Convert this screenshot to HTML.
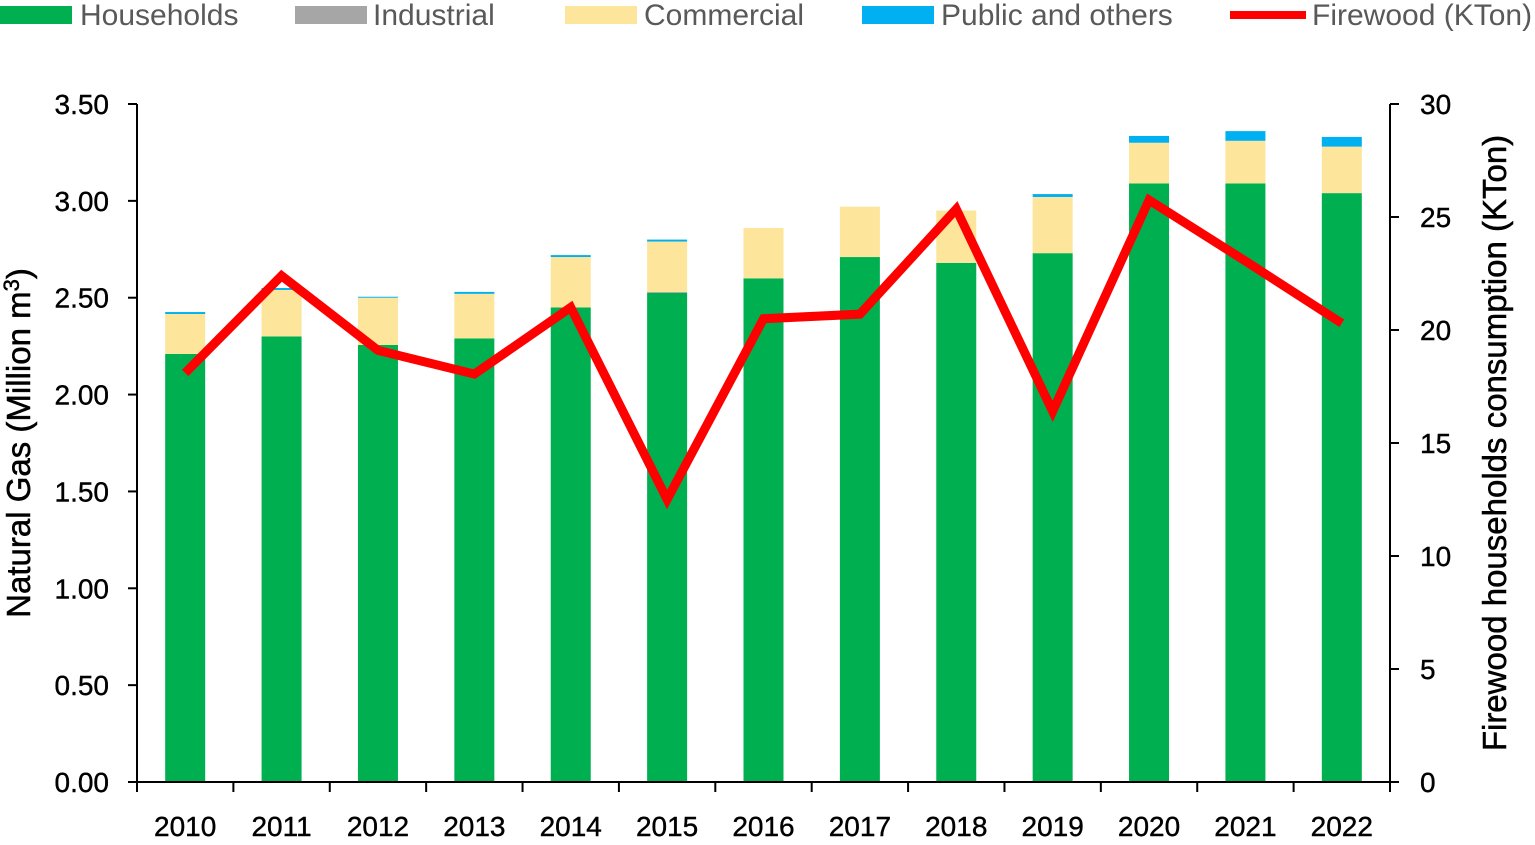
<!DOCTYPE html>
<html><head><meta charset="utf-8"><style>
body{margin:0;background:#fff;}
svg{display:block;font-family:"Liberation Sans",sans-serif;}
</style></head><body>
<svg id="c" width="1535" height="845"></svg>
<script>
const years=["2010","2011","2012","2013","2014","2015","2016","2017","2018","2019","2020","2021","2022"];
const households=[2.21,2.30,2.256,2.29,2.45,2.525,2.60,2.71,2.68,2.73,3.09,3.09,3.04];
const industrial=[0,0,0,0,0,0.005,0,0,0,0,0,0,0];
const commercial=[0.206,0.24,0.244,0.23,0.26,0.26,0.26,0.26,0.27,0.29,0.21,0.22,0.24];
const publicOthers=[0.01,0.01,0.005,0.01,0.01,0.01,0,0,0,0.015,0.035,0.05,0.05];
const firewood=[18.1,22.4,19.1,18.05,21.0,12.5,20.5,20.7,25.35,16.4,25.75,23.05,20.3];
const leftTicks=["0.00","0.50","1.00","1.50","2.00","2.50","3.00","3.50"];
const rightTicks=["0","5","10","15","20","25","30"];
const NS="http://www.w3.org/2000/svg";
const svg=document.getElementById('c');
function el(t,a,txt){const e=document.createElementNS(NS,t);for(const k in a)e.setAttribute(k,a[k]);if(txt!==undefined)e.textContent=txt;svg.appendChild(e);return e;}
const X0=137,X1=1390,Y0=782,Y1=104;
const cw=(X1-X0)/years.length;
const yL=v=>Y0-(v/3.5)*(Y0-Y1);
const yR=v=>Y0-(v/30)*(Y0-Y1);
const xc=i=>X0+cw*(i+0.5);
const bw=40;
years.forEach((y,i)=>{
  let base=0;
  const segs=[[households[i],"#00b050","households"],[industrial[i],"#a6a6a6","industrial"],[commercial[i],"#fde59b","commercial"],[publicOthers[i],"#00b0f0","public-others"]];
  segs.forEach(([v,c,n])=>{
    if(v<=0)return;
    const r=el('rect',{x:xc(i)-bw/2,y:yL(base+v),width:bw,height:yL(base)-yL(base+v),fill:c});
    
    
    base+=v;
  });
});
let a=el('line',{x1:X0,y1:Y1,x2:X0,y2:Y0,stroke:'#000','stroke-width':2});
a=el('line',{x1:X1,y1:Y1,x2:X1,y2:Y0,stroke:'#000','stroke-width':2});
a=el('line',{x1:X0,y1:Y0,x2:X1,y2:Y0,stroke:'#000','stroke-width':2});
leftTicks.forEach((t,i)=>{const v=parseFloat(t);el('line',{x1:X0-9,y1:yL(v),x2:X0,y2:yL(v),stroke:'#000','stroke-width':2});
 const tx=el('text',{x:X0-28,y:yL(v)+10,'text-anchor':'end','font-size':28,stroke:'#000','stroke-width':0.4},t);});
rightTicks.forEach(t=>{const v=parseFloat(t);el('line',{x1:X1,y1:yR(v),x2:X1+9,y2:yR(v),stroke:'#000','stroke-width':2});
 const tx=el('text',{x:X1+30,y:yR(v)+10,'text-anchor':'start','font-size':28,stroke:'#000','stroke-width':0.4},t);});
for(let i=0;i<=years.length;i++)el('line',{x1:X0+cw*i,y1:Y0,x2:X0+cw*i,y2:Y0+10,stroke:'#000','stroke-width':2});
years.forEach((y,i)=>{const tx=el('text',{x:xc(i),y:836,'text-anchor':'middle','font-size':28,stroke:'#000','stroke-width':0.4},y);});
const pl=el('polyline',{points:firewood.map((v,i)=>xc(i)+','+yR(v)).join(' '),fill:'none',stroke:'#ff0000','stroke-width':9,'stroke-linejoin':'miter'});

let t=el('text',{x:0,y:0,transform:'translate(30,443) rotate(-90)','text-anchor':'middle','font-size':33,stroke:'#000','stroke-width':0.5});

t.innerHTML='Natural Gas (Million m<tspan dy="-11" font-size="22">3</tspan><tspan dy="11">)</tspan>';
t=el('text',{x:0,y:0,transform:'translate(1506,443) rotate(-90)','text-anchor':'middle','font-size':33,stroke:'#000','stroke-width':0.5},'Firewood households consumption (KTon)');

const leg=[["Households","#00b050",0,80,"rect"],["Industrial","#a6a6a6",295,373,"rect"],["Commercial","#fde59b",565,644,"rect"],["Public and others","#00b0f0",862,941,"rect"],["Firewood (KTon)","#ff0000",1230,1312,"line"]];
leg.forEach(([n,c,x,tx,k])=>{
 const g=k==="rect"?el('rect',{x:x,y:6,width:72,height:18,fill:c}):el('line',{x1:x,y1:15,x2:x+76,y2:15,stroke:c,'stroke-width':8});
 
 const tt=el('text',{x:tx,y:25,'font-size':30,fill:'#595959'},n);
});
</script></body></html>
